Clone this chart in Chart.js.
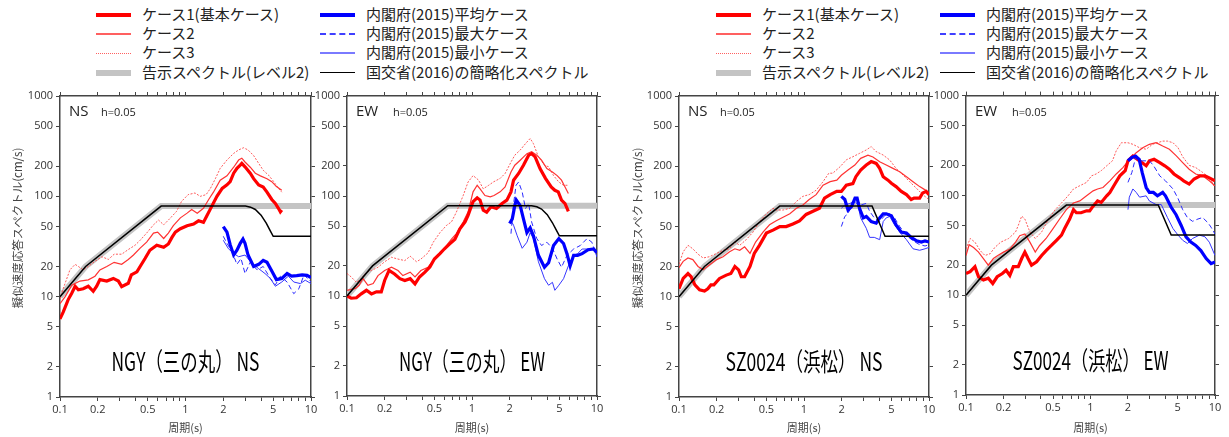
<!DOCTYPE html>
<html>
<head>
<meta charset="utf-8">
<script src="https://cdn.jsdelivr.net/npm/chart.js@4.4.1/dist/chart.umd.min.js"></script>
<style>
  body { margin: 0; background: #fff; width: 1229px; height: 437px; position: relative; overflow: hidden;
         font-family: "Noto Sans CJK JP", "Noto Sans", sans-serif; }
  canvas { position: absolute; }
  .leg { position: absolute; font-size: 15px; color: #222; line-height: 18px; white-space: nowrap; }
  .sw { position: absolute; width: 35px; height: 0; }
</style>
</head>
<body>
<div id="legends"></div>
<canvas id="p1"></canvas>
<canvas id="p2"></canvas>
<canvas id="p3"></canvas>
<canvas id="p4"></canvas>
<script>
// axis ticks
const xTickValues = [0.1,0.2,0.3,0.4,0.5,0.6,0.7,0.8,0.9,1,2,3,4,5,6,7,8,9,10];
const xTickLabels = [0.1,0.2,0.5,1,2,5,10];
const yTickValues = [1,2,5,10,20,50,100,200,500,1000];
const yTitle = '擬似速度応答スペクトル(cm/s)';
const xTitle = '周期(s)';

const legendNames = ['ケース1(基本ケース)','ケース2','ケース3','告示スペクトル(レベル2)',
  '内閣府(2015)平均ケース','内閣府(2015)最大ケース','内閣府(2015)最小ケース','国交省(2016)の簡略化スペクトル'];

// reference spectra [period(s), pSv(cm/s)]
const kokujiLv2 = [[0.1,10],[0.16,20],[0.64,80],[10,80]];
const simpleNGY = [[0.1,10],[0.16,20],[0.64,80],[3.0,80],[3.3,78],[3.6,74],[4.0,65],[4.4,54],[4.75,45],[5.0,40],[10,40]];
const simpleSZ  = [[0.1,10],[0.16,20],[0.64,80],[3.5,80],[4.45,40],[10,40]];

// NGY(三の丸) NS
const ngyNsCase1 = [[0.1,6.0],[0.106,7],[0.116,9.3],[0.124,10.8],[0.132,12.7],[0.14,11.7],[0.153,12],[0.168,12.7],[0.184,11.3],[0.196,12.7],[0.208,14.8],[0.236,14.3],[0.266,15.2],[0.292,14.3],[0.31,12.6],[0.35,13.6],[0.37,16.5],[0.41,17.7],[0.435,20],[0.476,24],[0.52,29],[0.59,32.5],[0.67,31],[0.73,33.5],[0.78,39],[0.83,44],[0.91,47.5],[1.03,51],[1.16,53],[1.27,57],[1.39,55],[1.48,64],[1.58,75],[1.78,100],[1.96,120],[2.14,130],[2.27,140],[2.42,170],[2.57,190],[2.73,205],[2.81,213],[2.98,197],[3.28,170],[3.49,150],[3.83,130],[4.16,124],[4.46,110],[4.87,93],[5.2,85],[5.5,76],[5.7,70],[5.85,73]];
const ngyNsCase2 = [[0.1,8.5],[0.11,10],[0.124,13],[0.144,14.3],[0.168,14.7],[0.19,16],[0.208,18.5],[0.236,20],[0.27,22],[0.31,21],[0.35,23.5],[0.385,26],[0.435,30.5],[0.49,35],[0.556,43],[0.6,44],[0.67,38],[0.73,43],[0.8,51],[0.91,61],[1.03,68],[1.12,74],[1.24,68],[1.39,76],[1.53,93],[1.67,110],[1.89,145],[2.14,160],[2.42,195],[2.65,230],[2.81,240],[2.98,220],[3.28,195],[3.6,170],[3.95,160],[4.46,150],[4.87,140],[5.3,125],[5.85,115]];
const ngyNsCase3 = [[0.1,9.5],[0.106,12],[0.113,15],[0.12,18.5],[0.132,21],[0.14,20],[0.153,18.5],[0.168,20],[0.19,22.5],[0.216,25],[0.243,23.5],[0.27,26.5],[0.31,26.5],[0.35,29.5],[0.396,32.5],[0.435,36.5],[0.49,43],[0.556,52],[0.61,58],[0.67,52],[0.76,61],[0.85,71],[0.93,89],[1.05,104],[1.19,108],[1.31,100],[1.46,104],[1.58,120],[1.73,150],[1.89,190],[2.14,230],[2.42,268],[2.65,290],[2.9,305],[3.15,290],[3.49,255],[3.83,213],[4.16,182],[4.6,162],[5.05,140],[5.5,120],[5.85,110]];
const ngyNsCaoMean = [[2.0,50],[2.14,44],[2.27,33],[2.42,26],[2.57,29],[2.73,34],[2.87,37.5],[2.98,34],[3.15,26],[3.49,20],[3.83,21],[4.16,23],[4.46,22],[4.87,18],[5.3,14.8],[5.85,15.2],[6.45,17],[7.0,16],[7.7,16.2],[8.5,16.5],[9.3,16.3],[10,15.5]];
const ngyNsCaoMax = [[2.0,40],[2.14,34],[2.35,28],[2.57,21],[2.77,24],[2.98,17],[3.28,22],[3.72,18.5],[4.16,20],[4.74,15.2],[5.2,13.1],[5.7,16],[6.45,14],[7.29,10.7],[8.0,12],[8.8,16.5],[10,14]];
const ngyNsCaoMin = [[2.0,36.5],[2.2,30],[2.42,27],[2.65,25],[2.98,26],[3.38,21.5],[3.83,19],[4.3,17],[4.74,15.2],[5.2,12.7],[5.85,14],[6.6,16],[7.29,14],[8.24,13.5],[9.0,14.6],[10,13.5]];

// NGY(三の丸) EW
const ngyEwCase1 = [[0.1,10],[0.108,9.5],[0.119,9.6],[0.13,10.5],[0.143,11.4],[0.157,10.5],[0.172,11],[0.188,11],[0.2,14.3],[0.217,18],[0.24,16.6],[0.265,14.9],[0.29,14.3],[0.32,14.9],[0.35,13.2],[0.38,15.5],[0.42,17.3],[0.46,19.5],[0.5,23.4],[0.554,26.5],[0.6,29.5],[0.66,33],[0.73,37],[0.8,47],[0.88,55],[0.93,64],[1.02,88],[1.1,96],[1.16,91],[1.23,72],[1.31,69],[1.42,78],[1.57,75],[1.74,84],[1.9,91],[2.05,110],[2.15,144],[2.36,168],[2.58,203],[2.84,256],[3.0,265],[3.2,246],[3.5,188],[3.87,150],[4.3,123],[4.6,114],[4.9,110],[5.2,91],[5.55,84],[5.9,70]];
const ngyEwCase2 = [[0.1,11.4],[0.117,11.9],[0.125,12.8],[0.134,15],[0.147,12.8],[0.162,13.3],[0.177,16],[0.2,18],[0.227,19.4],[0.256,18],[0.28,16],[0.32,17.3],[0.35,15.5],[0.39,18],[0.445,19.4],[0.49,22.6],[0.554,27],[0.627,32],[0.685,37],[0.75,42],[0.85,55],[0.93,69],[1.02,110],[1.1,128],[1.16,118],[1.27,101],[1.4,98],[1.5,101],[1.68,110],[1.84,123],[2.05,174],[2.2,203],[2.43,228],[2.75,265],[3.0,277],[3.3,256],[3.6,228],[3.97,188],[4.4,174],[4.8,160],[5.2,144],[5.55,123],[5.9,106]];
const ngyEwCase3 = [[0.1,16.8],[0.108,15.5],[0.119,13.7],[0.13,14.9],[0.143,17.3],[0.157,18],[0.177,19.4],[0.2,22],[0.227,24.4],[0.256,23.4],[0.29,22.6],[0.32,25],[0.36,22],[0.39,23.4],[0.445,27],[0.49,34.5],[0.554,43],[0.627,51],[0.685,55],[0.75,69],[0.85,101],[0.93,138],[1.02,160],[1.13,144],[1.23,118],[1.36,128],[1.48,138],[1.68,150],[1.84,168],[2.05,218],[2.2,256],[2.43,288],[2.68,334],[2.92,376],[3.1,334],[3.4,246],[3.8,203],[4.1,196],[4.49,160],[4.95,138],[5.4,128],[5.9,128]];
const ngyEwCaoMean = [[2.0,53],[2.1,59],[2.2,80],[2.26,91],[2.43,80],[2.58,59],[2.75,43],[2.92,48],[3.1,40],[3.4,25.5],[3.8,19.4],[4.1,21.5],[4.49,32],[4.95,37.5],[5.4,33.5],[5.75,26.5],[6.1,20],[6.5,25.5],[7.0,25.5],[7.6,26.5],[8.5,29],[9.4,29.5],[10,27]];
const ngyEwCaoMax = [[2.05,42],[2.15,83],[2.25,128],[2.36,138],[2.52,110],[2.68,75],[2.84,84],[3.0,55],[3.3,37.5],[3.6,32],[3.97,34.5],[4.4,30],[4.8,23.4],[5.2,19.4],[5.75,25.5],[6.5,29.5],[7.35,32],[8.32,37.5],[9.1,34.5],[10,24.5]];
const ngyEwCaoMin = [[2.08,55],[2.15,51],[2.3,40],[2.52,30],[2.75,34.5],[2.92,43],[3.1,37.5],[3.4,22],[3.8,14.9],[4.1,12.8],[4.4,13.7],[4.6,11.4],[4.95,12.8],[5.4,14.9],[5.9,20],[6.5,25.5],[7.0,26.5],[7.6,29.5],[8.8,29.5],[10,28.5]];

// SZ0024(浜松) NS
const szNsCase1 = [[0.1,12],[0.108,15.2],[0.118,17],[0.125,15.8],[0.134,13.1],[0.146,11.7],[0.16,11.4],[0.17,12],[0.18,13.1],[0.19,13.1],[0.211,15.2],[0.239,16.4],[0.26,17],[0.28,20],[0.3,18.5],[0.315,15.8],[0.335,15.8],[0.37,20],[0.4,27],[0.44,32.5],[0.5,43],[0.565,46],[0.64,50],[0.72,50],[0.815,53],[0.92,57],[1.04,66],[1.18,71],[1.33,76],[1.46,96],[1.62,104],[1.83,112],[1.99,112],[2.18,129],[2.46,134],[2.6,157],[2.84,183],[3.15,205],[3.45,222],[3.78,213],[4.03,190],[4.3,157],[4.7,145],[5.0,135],[5.45,125],[6.0,112],[6.6,104],[7.2,93],[7.6,96],[8.42,96],[8.9,108],[9.5,112],[10,104]];
const szNsCase2 = [[0.1,19.5],[0.108,22.5],[0.118,24.3],[0.129,23.4],[0.142,20],[0.156,18.5],[0.175,20.7],[0.2,23.4],[0.225,25],[0.254,28],[0.28,30],[0.306,29],[0.335,31.4],[0.37,27],[0.41,35],[0.47,44],[0.53,52],[0.6,57],[0.68,62],[0.77,67],[0.87,76],[0.98,82],[1.1,93],[1.25,104],[1.42,129],[1.62,140],[1.83,145],[1.99,162],[2.25,183],[2.55,205],[2.84,239],[3.25,257],[3.56,247],[4.03,221],[4.55,205],[5.15,190],[5.83,176],[6.6,157],[7.45,140],[8.42,125],[9.3,116],[10,108]];
const szNsCase3 = [[0.1,21],[0.108,28],[0.118,32.5],[0.129,30],[0.142,26.5],[0.156,24.3],[0.175,25],[0.2,27],[0.225,29],[0.254,30],[0.28,35],[0.306,32.5],[0.345,37],[0.391,44],[0.442,56],[0.5,67],[0.565,76],[0.6,73],[0.68,73],[0.77,76],[0.87,89],[0.98,100],[1.1,104],[1.25,115],[1.42,140],[1.58,170],[1.7,170],[1.95,198],[2.18,231],[2.46,248],[2.78,268],[3.15,290],[3.45,313],[3.78,279],[4.3,258],[4.85,230],[5.45,190],[6.2,163],[7.0,140],[7.95,120],[8.9,104],[10,93]];
const szNsCaoMean = [[1.99,100],[2.12,93],[2.25,73],[2.4,79],[2.56,96],[2.66,96],[2.78,76],[2.98,61],[3.15,63],[3.45,56],[3.78,54],[4.03,61],[4.3,67],[4.55,67],[5.0,64],[5.45,52],[6.0,44],[6.6,43],[7.2,39],[7.95,36],[8.7,35],[9.3,36],[10,35]];
const szNsCaoMax = [[1.99,50],[2.12,63],[2.25,67],[2.46,89],[2.66,93],[2.84,82],[3.15,85],[3.35,71],[3.65,61],[4.03,56],[4.4,64],[4.85,67],[5.3,61],[5.83,50],[6.6,41],[7.45,36],[8.42,33],[9.3,32],[10,33]];
const szNsCaoMin = [[1.99,76],[2.12,82],[2.33,85],[2.56,89],[2.7,82],[2.84,61],[3.15,48],[3.35,39],[3.65,39],[4.03,37],[4.3,56],[4.55,61],[4.85,63],[5.3,52],[5.83,44],[6.6,37],[7.45,30],[8.42,29],[9.3,30],[10,31]];

// SZ0024(浜松) EW
const szEwCase1 = [[0.1,16.5],[0.108,17.2],[0.118,19.3],[0.126,15.3],[0.138,14.2],[0.151,14.8],[0.164,13.1],[0.178,15.3],[0.196,16.5],[0.21,17.8],[0.225,15.8],[0.24,19.3],[0.263,19.3],[0.28,23.3],[0.297,27],[0.315,23.3],[0.336,20],[0.369,21.6],[0.405,25],[0.44,28],[0.485,31.5],[0.533,35.5],[0.585,40],[0.62,46.5],[0.68,58],[0.73,72],[0.77,67],[0.84,67],[0.93,70],[0.985,70],[1.05,78],[1.14,88],[1.22,85],[1.35,99],[1.43,107],[1.57,130],[1.72,157],[1.9,177],[2.0,222],[2.19,248],[2.48,222],[2.8,198],[2.97,222],[3.24,230],[3.6,213],[3.95,198],[4.3,183],[4.68,164],[5.2,150],[5.6,140],[6.2,130],[6.8,146],[7.6,157],[8.3,157],[9.0,150],[10,140]];
const szEwCase2 = [[0.1,25],[0.106,32],[0.115,30],[0.126,27],[0.138,23.3],[0.151,20],[0.166,23.3],[0.18,25],[0.2,27],[0.225,29],[0.25,34],[0.27,39.5],[0.297,41],[0.326,34],[0.36,27],[0.39,31.5],[0.44,37],[0.5,46.5],[0.565,58],[0.64,72],[0.73,84],[0.82,88],[0.93,99],[1.05,111],[1.14,116],[1.26,120],[1.43,140],[1.61,164],[1.82,190],[2.06,230],[2.33,268],[2.63,300],[2.97,325],[3.36,337],[3.8,312],[4.3,290],[4.87,250],[5.5,213],[6.2,183],[7.0,164],[7.95,157],[9.0,140],[10,125]];
const szEwCase3 = [[0.1,29],[0.108,37],[0.118,34],[0.13,28],[0.142,25],[0.156,26],[0.17,30],[0.19,34],[0.22,37],[0.25,43],[0.263,50],[0.28,62],[0.297,58],[0.326,43],[0.36,37],[0.405,43],[0.46,58],[0.52,72],[0.585,84],[0.66,99],[0.73,116],[0.82,125],[0.93,135],[1.02,157],[1.11,164],[1.22,177],[1.35,198],[1.5,222],[1.61,280],[1.77,337],[2.0,337],[2.19,325],[2.48,300],[2.8,290],[3.15,325],[3.45,337],[3.8,350],[4.15,350],[4.6,337],[5.05,300],[5.5,244],[6.2,200],[7.0,190],[7.95,170],[9.0,150],[10,120]];
const szEwCaoMean = [[2.0,222],[2.15,240],[2.3,248],[2.46,230],[2.6,170],[2.8,120],[2.97,107],[3.2,107],[3.45,99],[3.8,107],[4.0,99],[4.45,76],[4.87,64],[5.35,50],[5.85,38.5],[6.4,34],[7.0,31.5],[7.7,28],[8.5,23.3],[9.3,20.7],[10,21.5]];
const szEwCaoMax = [[2.0,135],[2.15,170],[2.3,237],[2.46,222],[2.63,222],[2.97,222],[3.2,200],[3.6,157],[4.0,140],[4.6,116],[5.05,93],[5.5,72],[6.0,60],[6.6,55],[7.3,58],[7.95,60],[8.8,53],[9.3,48],[10,41]];
const szEwCaoMin = [[2.0,72],[2.05,96],[2.19,116],[2.33,107],[2.48,96],[2.8,99],[2.97,88],[3.36,81],[3.7,81],[4.15,60],[4.6,46.5],[5.05,40],[5.5,35.5],[6.0,33],[6.6,37],[7.5,40],[8.3,38.5],[9.0,34],[10,25]];

// styles for the eight series, in legend order
const styles = [
  { color: '#ff0000', width: 3.2, dash: [] },
  { color: 'rgb(255,50,50)', width: 1.2, dash: [] },
  { color: 'rgb(255,70,70)', width: 0.9, dash: [2, 1.5] },
  { color: '#c4c4c4', width: 6, dash: [] },
  { color: '#0000ff', width: 3.2, dash: [] },
  { color: '#2a2aff', width: 1, dash: [5, 3] },
  { color: '#3535ff', width: 1, dash: [] },
  { color: '#000000', width: 1.5, dash: [] }
];
// legend swatches are drawn a bit softer than the plot lines
const swatches = [
  { w: 4, s: 'solid', c: '#ff0000' },
  { w: 2, s: 'solid', c: '#ff6060' },
  { w: 1, s: 'dotted', c: '#ff6060' },
  { w: 6, s: 'solid', c: '#c4c4c4' },
  { w: 4, s: 'solid', c: '#0000ff' },
  { w: 2, s: 'dashed', c: '#4040ff' },
  { w: 2, s: 'solid', c: '#7a7aff' },
  { w: 1.5, s: 'solid', c: '#000000' }
];

function line(points, st) {
  return {
    data: points.map(p => ({ x: p[0], y: p[1] })),
    borderColor: st.color, borderWidth: st.width, borderDash: st.dash,
    showLine: true, pointRadius: 0, fill: false, tension: 0
  };
}

// legends (two identical blocks)
function buildLegend(offsetX) {
  const host = document.getElementById('legends');
  const rows = [15, 34, 53, 73];
  legendNames.forEach((name, i) => {
    const col = i < 4 ? 0 : 1;
    const y = rows[i % 4];
    const sw = swatches[i];
    const d = document.createElement('div');
    d.className = 'sw';
    d.style.left = (offsetX + (col ? 320 : 96)) + 'px';
    d.style.top = (y - sw.w / 2) + 'px';
    d.style.borderTop = sw.w + 'px ' + sw.s + ' ' + sw.c;
    host.appendChild(d);
    const t = document.createElement('div');
    t.className = 'leg';
    t.textContent = name;
    t.style.left = (offsetX + (col ? 366 : 142)) + 'px';
    t.style.top = (y - 10) + 'px';
    host.appendChild(t);
  });
}
buildLegend(0);
buildLegend(620);

function panel(id, box, sets, comp, station, showYTitle) {
  const c = document.getElementById(id);
  c.width = box.w; c.height = box.h;
  c.style.left = box.left + 'px'; c.style.top = box.top + 'px';
  const tickFont = { family: 'Open Sans', size: 11 };
  const gridOpts = { drawOnChartArea: false, color: '#444', tickLength: 4, lineWidth: 1 };
  const borderOpts = { color: '#444', width: 1.5 };
  const labelPlugin = {
    id: 'panelText',
    afterDraw(chart) {
      const a = chart.chartArea, ctx = chart.ctx;
      ctx.save();
      ctx.fillStyle = '#222';
      ctx.textBaseline = 'middle';
      ctx.font = '15px "Open Sans"';
      ctx.fillText(comp, a.left + 9, a.top + 16);
      ctx.font = '11px "Open Sans"';
      ctx.fillText('h=0.05', a.left + (comp === 'NS' ? 41 : 46), a.top + 17);
      if (showYTitle) {
        // vertical axis title, sitting a little above the plot's middle as in the source
        ctx.save();
        ctx.fillStyle = '#444';
        ctx.font = '11.5px "Noto Sans CJK JP"';
        ctx.translate(18, a.top + 132);
        ctx.rotate(-Math.PI / 2);
        ctx.textAlign = 'center';
        ctx.fillText(yTitle, 0, 0);
        ctx.restore();
      }
      ctx.font = '23px "Noto Sans CJK JP"';
      const w = ctx.measureText(station.text).width;
      const k = station.width / w;
      ctx.translate((a.left + a.right) / 2, a.top + 265);
      ctx.scale(k, 1.1);
      ctx.textAlign = 'center';
      ctx.fillStyle = '#000';
      ctx.fillText(station.text, 0, 0);
      ctx.restore();
    }
  };
  new Chart(c, {
    type: 'scatter',
    data: { datasets: [
      line(sets.simple, styles[7]),
      line(sets.mean, styles[4]),
      line(sets.max, styles[5]),
      line(sets.min, styles[6]),
      line(sets.case1, styles[0]),
      line(sets.case2, styles[1]),
      line(sets.case3, styles[2]),
      line(kokujiLv2, styles[3])
    ] },
    options: {
      responsive: false, animation: false, devicePixelRatio: 1,
      layout: { padding: 0 },
      plugins: { legend: { display: false }, tooltip: { enabled: false } },
      scales: {
        x: {
          type: 'logarithmic', position: 'bottom', min: 0.1, max: 10,
          afterBuildTicks: s => { s.ticks = xTickValues.map(v => ({ value: v })); },
          afterFit: s => { s.height = box.top + box.h - box.B; },
          ticks: { autoSkip: false, maxRotation: 0, color: '#333', font: tickFont, padding: 2,
                   callback: v => xTickLabels.includes(v) ? String(v) : '' },
          grid: gridOpts, border: borderOpts,
          title: { display: true, text: xTitle, color: '#444',
                   font: { family: 'Noto Sans CJK JP', size: 11 }, padding: { top: 0, bottom: 3 } }
        },
        x2: {
          type: 'logarithmic', position: 'top', min: 0.1, max: 10,
          afterBuildTicks: s => { s.ticks = xTickValues.map(v => ({ value: v })); },
          afterFit: s => { s.height = box.T - box.top; },
          ticks: { display: false }, grid: gridOpts, border: borderOpts
        },
        y: {
          type: 'logarithmic', position: 'left', min: 1, max: 1000,
          afterBuildTicks: s => { s.ticks = yTickValues.map(v => ({ value: v })); },
          afterFit: s => { s.width = box.L - box.left; },
          ticks: { color: '#333', font: tickFont, padding: 3, callback: v => String(v) },
          grid: gridOpts, border: borderOpts
        },
        y2: {
          type: 'logarithmic', position: 'right', min: 1, max: 1000,
          afterBuildTicks: s => { s.ticks = yTickValues.map(v => ({ value: v })); },
          afterFit: s => { s.width = box.left + box.w - box.R; },
          ticks: { display: false }, grid: gridOpts, border: borderOpts
        }
      }
    },
    plugins: [labelPlugin]
  });
}

panel('p1', { left: 0, top: 86, w: 325, h: 351, L: 60, R: 311, T: 96, B: 397 },
  { simple: simpleNGY, case1: ngyNsCase1, case2: ngyNsCase2, case3: ngyNsCase3,
    mean: ngyNsCaoMean, max: ngyNsCaoMax, min: ngyNsCaoMin },
  'NS', { text: 'NGY（三の丸） NS', width: 148 }, true);
panel('p2', { left: 311, top: 86, w: 300, h: 351, L: 347, R: 597, T: 96, B: 396 },
  { simple: simpleNGY, case1: ngyEwCase1, case2: ngyEwCase2, case3: ngyEwCase3,
    mean: ngyEwCaoMean, max: ngyEwCaoMax, min: ngyEwCaoMin },
  'EW', { text: 'NGY（三の丸） EW', width: 146 }, false);
panel('p3', { left: 620, top: 86, w: 325, h: 351, L: 679, R: 929, T: 96, B: 397 },
  { simple: simpleSZ, case1: szNsCase1, case2: szNsCase2, case3: szNsCase3,
    mean: szNsCaoMean, max: szNsCaoMax, min: szNsCaoMin },
  'NS', { text: 'SZ0024（浜松） NS', width: 157 }, true);
panel('p4', { left: 930, top: 86, w: 299, h: 351, L: 966, R: 1215, T: 95, B: 395 },
  { simple: simpleSZ, case1: szEwCase1, case2: szEwCase2, case3: szEwCase3,
    mean: szEwCaoMean, max: szEwCaoMax, min: szEwCaoMin },
  'EW', { text: 'SZ0024（浜松） EW', width: 156 }, false);
</script>
</body>
</html>
